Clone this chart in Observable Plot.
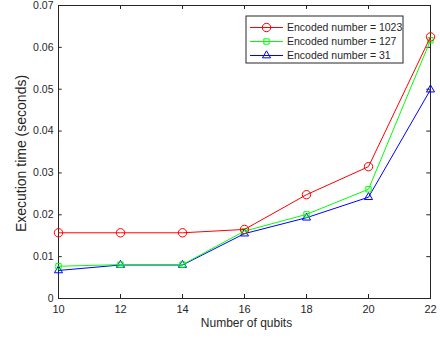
<!DOCTYPE html>
<html><head><meta charset="utf-8">
<script src="https://cdn.jsdelivr.net/npm/d3@7"></script>
<script src="https://cdn.jsdelivr.net/npm/@observablehq/plot@0.6"></script>
<style>body{margin:0;background:#fff;font-family:"Liberation Sans",Arial,sans-serif}</style>
</head><body><div id="chart"></div>
<script>
const qubits = [10, 12, 14, 16, 18, 20, 22];
const enc1023 = [0.0157, 0.0157, 0.0157, 0.0165, 0.0248, 0.0315, 0.0625];
const enc127  = [0.0077, 0.0081, 0.0081, 0.0161, 0.0201, 0.0261, 0.0617];
const enc31   = [0.0067, 0.0080, 0.0080, 0.0155, 0.0193, 0.0242, 0.0499];
const seriesNames = ["Encoded number = 1023", "Encoded number = 127", "Encoded number = 31"];
const seriesColors = ["#ff0000", "#00ff00", "#0000ff"];
const seriesSymbols = ["circle", "square", "triangle"];
const seriesR = [4.2, 3.0, 3.0];
const xTicks = [10, 12, 14, 16, 18, 20, 22];
const yTicks = [0, 0.01, 0.02, 0.03, 0.04, 0.05, 0.06, 0.07];
const xLabel = "Number of qubits";
const yLabel = "Execution time (seconds)";

const allSeries = [enc1023, enc127, enc31];
const rows = [];
allSeries.forEach((vals, s) => vals.forEach((v, i) => rows.push({s, name: seriesNames[s], x: qubits[i], y: v})));

const W = 440, H = 341, mT = 5, mB = 43, mL = 58, mR = 10;
const ph = H - mT - mB;
const ink = "#262626";
const tick = 4;

const marks = [
  Plot.frame({stroke: ink}),
  Plot.ruleX(xTicks, {x: d => d, stroke: ink, insetTop: ph - tick}),
  Plot.ruleX(xTicks, {x: d => d, stroke: ink, insetBottom: ph - tick}),
  Plot.ruleY(yTicks, {y: d => d, stroke: ink, x1: 10, x2: 10.12}),
  Plot.ruleY(yTicks, {y: d => d, stroke: ink, x1: 21.88, x2: 22}),
  Plot.axisX(xTicks, {tickSize: 0, tickPadding: 7, fontSize: 11, fill: ink, label: null}),
  Plot.axisY(yTicks, {tickSize: 0, tickPadding: 5, fontSize: 10.5, fill: ink, label: null, tickFormat: d => d === 0 ? "0" : d3.format(".2f")(d)}),
  Plot.text([xLabel], {frameAnchor: "bottom", lineAnchor: "middle", dy: 25, dx: 2, fontSize: 12, fill: ink})
];
[2, 1, 0].forEach(s => {
  const d = rows.filter(r => r.s === s);
  marks.push(Plot.line(d, {x: "x", y: "y", stroke: seriesColors[s], strokeWidth: 1}));
  marks.push(Plot.dot(d, {x: "x", y: "y", stroke: seriesColors[s], fill: "none", symbol: () => seriesSymbols[s], r: seriesR[s], strokeWidth: 1}));
});

const plot = Plot.plot({
  width: W, height: H,
  marginTop: mT, marginBottom: mB, marginLeft: mL, marginRight: mR,
  style: {fontFamily: '"Liberation Sans", Arial, sans-serif', background: "#fff"},
  x: {domain: [10, 22]},
  y: {domain: [0, 0.07]},
  symbol: {type: "identity"},
  marks
});

const svg = d3.select(plot);
// y-axis title
svg.append("text")
  .attr("transform", `translate(21,${mT + ph / 2 + 2}) rotate(-90)`)
  .attr("text-anchor", "middle").attr("dy", "0.35em")
  .attr("font-family", '"Liberation Sans", Arial, sans-serif').attr("font-size", 14)
  .attr("fill", ink).text(yLabel);

// Legend box
const lg = svg.append("g").attr("font-family", '"Liberation Sans", Arial, sans-serif').attr("font-size", 10.5).attr("text-anchor", "start");
lg.append("rect").attr("x", 246).attr("y", 16).attr("width", 157).attr("height", 47).attr("fill", "#fff").attr("stroke", ink);
seriesNames.forEach((name, s) => {
  const cy = 27.5 + s * 14;
  lg.append("line").attr("x1", 250).attr("x2", 283).attr("y1", cy).attr("y2", cy).attr("stroke", seriesColors[s]);
  const sym = d3.symbol(seriesSymbols[s] === "circle" ? d3.symbolCircle : seriesSymbols[s] === "square" ? d3.symbolSquare : d3.symbolTriangle, Math.PI * seriesR[s] * seriesR[s]);
  lg.append("path").attr("d", sym()).attr("transform", `translate(266.5,${cy})`).attr("fill", "none").attr("stroke", seriesColors[s]);
  lg.append("text").attr("x", 287).attr("y", cy).attr("dy", "0.35em").attr("text-anchor", "start").attr("fill", ink).text(name);
});

document.getElementById("chart").append(plot);
</script>
</body></html>
